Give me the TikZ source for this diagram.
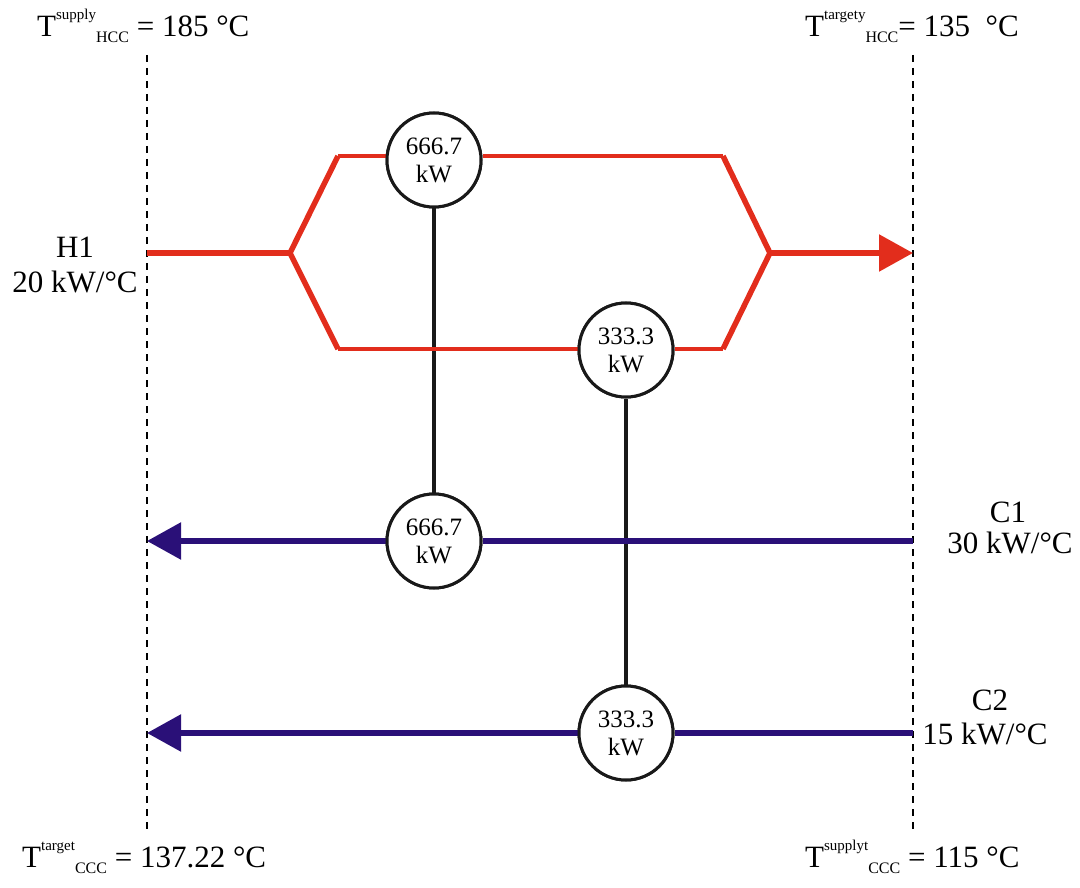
\documentclass[tikz,border=0pt]{standalone}
\usepackage{fontspec}
\setmainfont{Liberation Serif}
\usetikzlibrary{arrows.meta}
\definecolor{hotred}{RGB}{226,45,28}
\definecolor{coldblue}{RGB}{42,16,120}
\tikzset{
  lbl/.style={font=\fontsize{31}{33}\selectfont, inner sep=0pt, anchor=base},
  tlbl/.style={font=\fontsize{31}{33}\selectfont, inner sep=0pt, anchor=base west},
  hx/.style={circle, draw=black!90, line width=3pt, fill=white, minimum size=94pt, inner sep=0pt, align=center, font=\fontsize{25}{28}\selectfont},
  bound/.style={dashed, dash pattern=on 7pt off 6pt, line width=1.5pt, black},
  hotmain/.style={hotred, line width=5.5pt},
  hotbranch/.style={hotred, line width=4pt},
  cold/.style={coldblue, line width=5.5pt},
  tip/.style={-{Triangle[length=34pt,width=36pt]}},
  link/.style={black!90, line width=3.5pt}
}
\newcommand{\supx}[1]{\raisebox{17pt}{\fontsize{15}{15}\selectfont #1}}
\newcommand{\subx}[1]{\raisebox{-6pt}{\fontsize{16}{16}\selectfont #1}}
\begin{document}
\begin{tikzpicture}[x=1pt,y=-1pt]
\useasboundingbox (0,0) rectangle (1080,888);
% boundaries
\coordinate (Ltop) at (147,55);
\coordinate (Lbot) at (147,830);
\coordinate (Rtop) at (913,55);
\coordinate (Rbot) at (913,830);
\draw[bound] (Ltop) -- (Lbot);
\draw[bound] (Rtop) -- (Rbot);
% exchangers
\node[hx] (hx1) at (434,160) {666.7\\kW};
\node[hx] (hx2) at (626,350) {333.3\\kW};
\node[hx] (cx1) at (434,541) {666.7\\kW};
\node[hx] (cx2) at (626,733) {333.3\\kW};
% hot stream coordinates
\coordinate (hin) at (147,253);
\coordinate (b1) at (290,253);
\coordinate (u1) at (338,156);
\coordinate (u2) at (723,156);
\coordinate (l1) at (338,349);
\coordinate (l2) at (723,349);
\coordinate (m1) at (770,253);
\coordinate (hout) at (913,253);
% links
\draw[link] (hx1) -- (cx1);
\draw[link] (hx2) -- (cx2);
% hot stream
\draw[hotmain] (hin) -- (b1);
\draw[hotmain, line join=miter] (u1) -- (b1) -- (l1);
\draw[hotmain, line join=miter] (u2) -- (m1) -- (l2);
\draw[hotbranch] (u1) -- (u1 -| hx1.west);
\draw[hotbranch] (u2 -| hx1.east) -- (u2);
\draw[hotbranch] (l1) -- (l1 -| hx2.west);
\draw[hotbranch] (l2 -| hx2.east) -- (l2);
\draw[hotmain, tip] (m1) -- (hout);
% cold streams
\coordinate (c1in) at (913,541);
\coordinate (c1out) at (147,541);
\coordinate (c2in) at (913,733);
\coordinate (c2out) at (147,733);
\draw[cold] (c1in) -- (cx1.east);
\draw[cold, tip] (cx1.west) -- (c1out);
\draw[cold] (c2in) -- (cx2.east);
\draw[cold, tip] (cx2.west) -- (c2out);
% redraw circles on top
\node[hx] at (hx1) {666.7\\kW};
\node[hx] at (hx2) {333.3\\kW};
\node[hx] at (cx1) {666.7\\kW};
\node[hx] at (cx2) {333.3\\kW};
% stream labels
\node[lbl] (h1a) at (75,258) {H1};
\node[lbl] (h1b) at (75,292) {20 kW/°C};
\node[lbl] (c1a) at (1008,522) {C1};
\node[lbl] (c1b) at (1010,553) {30 kW/°C};
\node[lbl] (c2a) at (990,710) {C2};
\node[lbl] (c2b) at (985,744) {15 kW/°C};
% temperature labels
\node[tlbl] (t1) at (37,37) {T\supx{supply}\subx{HCC} = 185 °C};
\node[tlbl] (t2) at (805,37) {T\supx{targety}\subx{HCC}= 135 \ °C};
\node[tlbl] (t3) at (22,867) {T\supx{target}\subx{CCC} = 137.22 °C};
\node[tlbl] (t4) at (805,867) {T\supx{supplyt}\subx{CCC} = 115 °C};
\end{tikzpicture}
\end{document}
